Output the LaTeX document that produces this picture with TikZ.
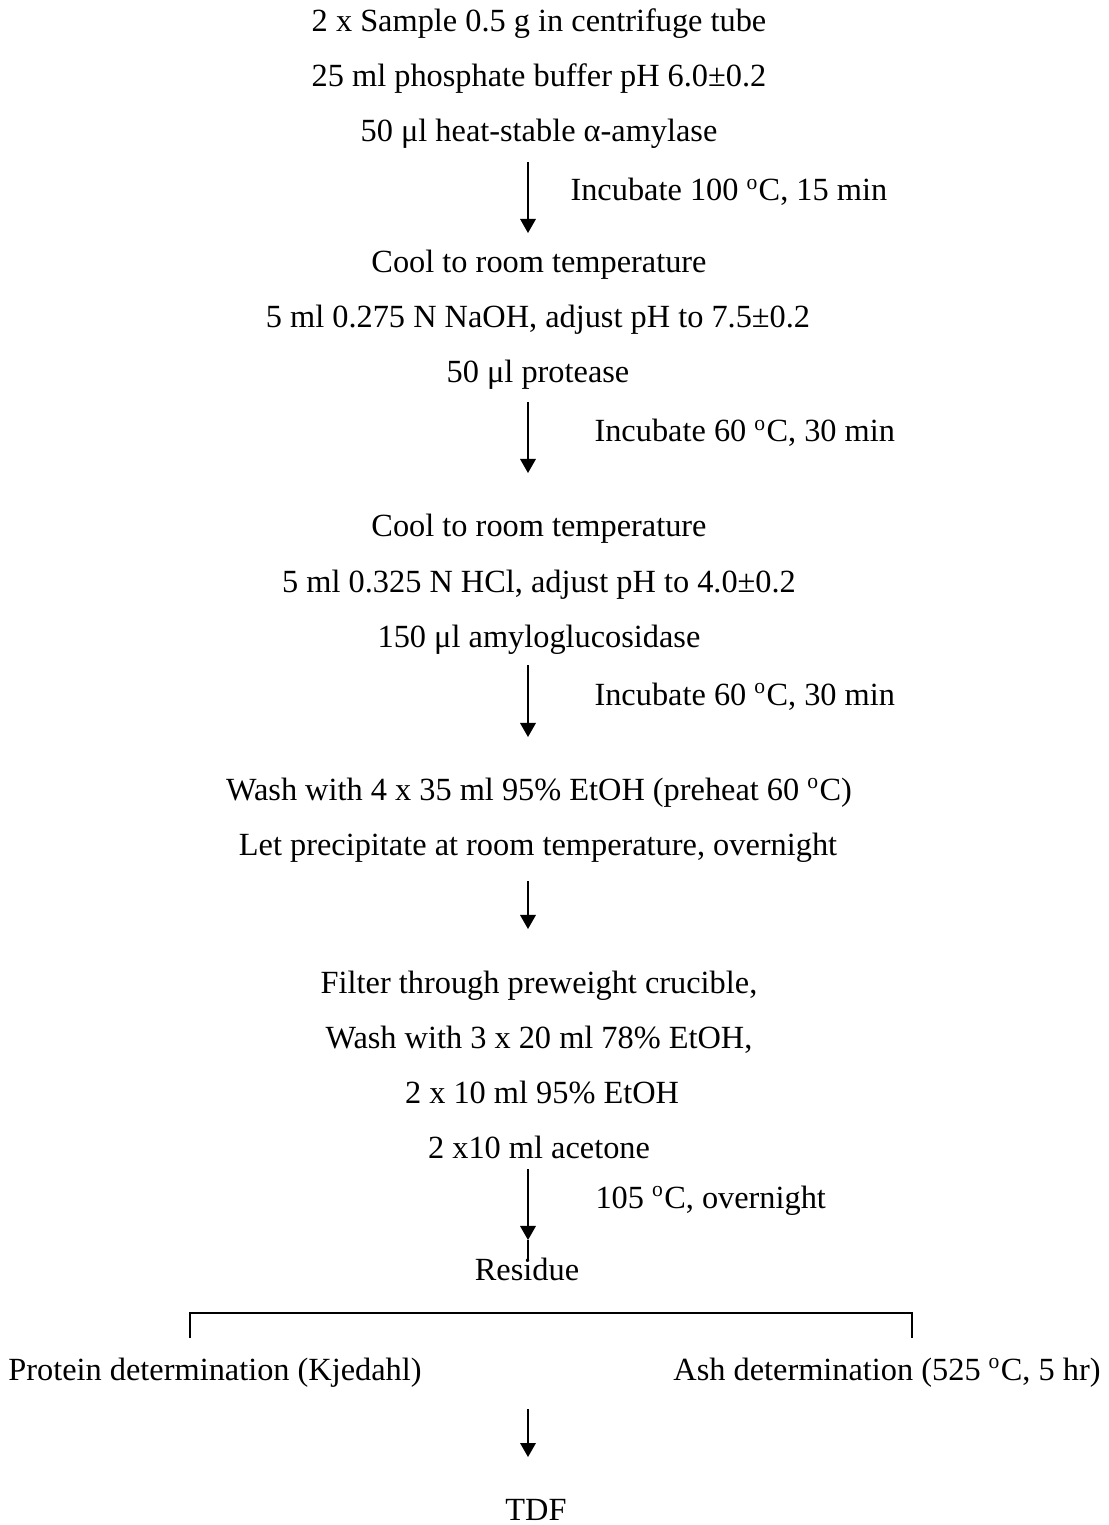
\documentclass[tikz,border=0pt]{standalone}
\usepackage{fontspec}
\setmainfont{Liberation Serif}
\usetikzlibrary{arrows.meta}

\begin{document}
\begin{tikzpicture}[x=0.371pt,y=-0.371pt]
\tikzstyle{stage}=[inner sep=0pt, anchor=base, font=\fontsize{12}{14}\selectfont]
\tikzstyle{cond}=[stage, anchor=base west]
\tikzstyle{connect}=[-{Triangle[length=5.2pt,width=5.8pt]}, line width=0.5pt]
\tikzstyle{plain}=[line width=0.5pt]
\tikzstyle{bracket}=[line width=0.9pt]
\useasboundingbox (0,0) rectangle (1109,1525);

	\node[stage] (sample) at (539,32) {2 x Sample 0.5 g in centrifuge tube};
	\node[stage] (buffer) at (539,87) {25 ml phosphate buffer pH 6.0±0.2};
	\node[stage] (amylase) at (539,142) {50 μl heat-stable α-amylase};
	\node[cond] (inc_1) at (570,201) {Incubate 100 \textsuperscript{o}C, 15 min};
	\node[stage] (cool_1) at (539,273) {Cool to room temperature};
	\node[stage] (naoh) at (538,328) {5 ml 0.275 N NaOH, adjust pH to 7.5±0.2};
	\node[stage] (protease) at (538,383) {50 μl protease};
	\node[cond] (inc_2) at (594,442) {Incubate 60 \textsuperscript{o}C, 30 min};
	\node[stage] (cool_2) at (539,537) {Cool to room temperature};
	\node[stage] (hcl) at (539,592) {5 ml 0.325 N HCl, adjust pH to 4.0±0.2};
	\node[stage] (amyloglu) at (539,647) {150 μl amyloglucosidase};
	\node[cond] (inc_3) at (594,705) {Incubate 60 \textsuperscript{o}C, 30 min};
	\node[stage] (etoh_1) at (539,800) {Wash with 4 x 35 ml 95\% EtOH (preheat 60 \textsuperscript{o}C)};
	\node[stage] (precip) at (538,855) {Let precipitate at room temperature, overnight};
	\node[stage] (filter) at (539,993) {Filter through preweight crucible,};
	\node[stage] (etoh_2) at (539,1048) {Wash with 3 x 20 ml 78\% EtOH,};
	\node[stage] (etoh_3) at (542,1103) {2 x 10 ml 95\% EtOH};
	\node[stage] (acetone) at (539,1158) {2 x10 ml acetone};
	\node[cond] (dry) at (595,1208) {105 \textsuperscript{o}C, overnight};
	\node[stage] (residue) at (527,1280) {Residue};
	\node[stage] (protein) at (215,1380) {Protein determination (Kjedahl)};
	\node[stage] (ash) at (887,1380) {Ash determination (525 \textsuperscript{o}C, 5 hr)};
	\node[stage] (tdf) at (536,1520) {TDF};

	\coordinate (a_1) at (528,162);  \coordinate (b_1) at (528,233);
	\coordinate (a_2) at (528,402);  \coordinate (b_2) at (528,473);
	\coordinate (a_3) at (528,665);  \coordinate (b_3) at (528,737);
	\coordinate (a_4) at (528,881);  \coordinate (b_4) at (528,929);
	\coordinate (a_5) at (528,1169); \coordinate (b_5) at (528,1240);
	\coordinate (c_5) at (528,1260);
	\coordinate (a_6) at (528,1409); \coordinate (b_6) at (528,1457);
	\coordinate (br_l) at (190,1338); \coordinate (br_r) at (912,1338);

	\path
		(a_1) edge [connect] (b_1)
		(a_2) edge [connect] (b_2)
		(a_3) edge [connect] (b_3)
		(a_4) edge [connect] (b_4)
		(a_5) edge [connect] (b_5)
		(b_5) edge [plain] (c_5)
		(a_6) edge [connect] (b_6);
	\draw[bracket] (br_l) |- (551,1313) -| (br_r);

\end{tikzpicture}
\end{document}
